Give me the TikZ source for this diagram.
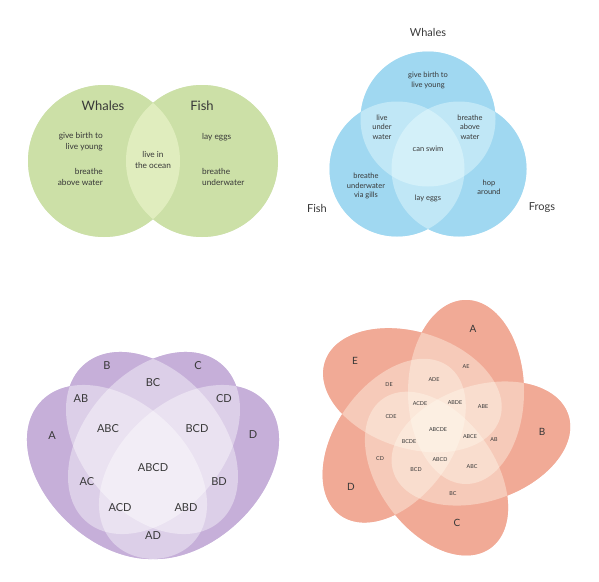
\documentclass[tikz,border=0pt]{standalone}
\usepackage{fontspec}
\setmainfont{Lato}
\definecolor{txt}{HTML}{383838}
\definecolor{gbase}{RGB}{168,199,125}
\definecolor{glight}{RGB}{250,255,220}
\definecolor{bbase}{RGB}{108,192,232}
\definecolor{blight}{RGB}{240,254,255}
\definecolor{pbase}{RGB}{160,123,192}
\definecolor{sbase}{RGB}{233,117,92}
\definecolor{cream}{RGB}{255,250,238}
\begin{document}
\begin{tikzpicture}[x=1pt,y=-1pt,
  lbl/.style={text=txt, align=center, inner sep=0pt},
  tlbig/.style={lbl, font=\fontsize{13}{16}\selectfont},
  tlsmall/.style={lbl, font=\fontsize{8.3}{11}\selectfont},
  trbig/.style={lbl, font=\fontsize{11}{13}\selectfont},
  trsmall/.style={lbl, font=\fontsize{7.5}{9.4}\selectfont},
  fourlbl/.style={lbl, font=\fontsize{11}{13}\selectfont},
  fivebig/.style={lbl, font=\fontsize{10}{12}\selectfont},
  fivesmall/.style={lbl, font=\fontsize{5.4}{6}\selectfont}
]
\useasboundingbox (0,0) rectangle (599,581);

% ---------- two circles ----------
\foreach \c in {(104,161),(202,161)} \fill[gbase] \c circle [radius=76];
\foreach \c in {(104,161),(202,161)} \fill[glight, fill opacity=0.45] \c circle [radius=76];
\node[tlbig] (tlW) at (103,106) {Whales};
\node[tlbig] (tlF) at (202,106) {Fish};
\node[tlsmall, align=right, anchor=east] (tl1) at (103,142) {give birth to\\live young};
\node[tlsmall, align=right, anchor=east] (tl2) at (103,177) {breathe\\above water};
\node[tlsmall] (tl3) at (153,160) {live in\\the ocean};
\node[tlsmall, anchor=west] (tl4) at (202,137) {lay eggs};
\node[tlsmall, align=left, anchor=west] (tl5) at (202,177) {breathe\\underwater};

% ---------- three circles ----------
\foreach \c in {(428,119),(397,169),(459,169)} \fill[bbase] \c circle [radius=67.5];
\foreach \c in {(428,119),(397,169),(459,169)} \fill[blight, fill opacity=0.4] \c circle [radius=67.5];
\node[trbig] (trW) at (428,32) {Whales};
\node[trbig] (trF) at (317,208) {Fish};
\node[trbig] (trG) at (542,208) {Frogs};
\node[trsmall] (tr1) at (428,80.5) {give birth to\\live young};
\node[trsmall] (tr2) at (382,127) {live\\under\\water};
\node[trsmall] (tr3) at (470,127) {breathe\\above\\water};
\node[trsmall] (tr4) at (428,149) {can swim};
\node[trsmall] (tr5) at (366,186) {breathe\\underwater\\via gills};
\node[trsmall] (tr6) at (428,198) {lay eggs};
\node[trsmall] (tr7) at (489,187) {hop\\around};

% ---------- four ellipses ----------
\def\fourell{%
  \fill[shift={(117,472)},rotate=-42.4] (0,0) ellipse [x radius=103.7, y radius=70.2];
  \fill[shift={(189,472)},rotate=42.4] (0,0) ellipse [x radius=103.7, y radius=70.2];
  \fill[shift={(152,443)},rotate=-49.4] (0,0) ellipse [x radius=103.7, y radius=70.2];
  \fill[shift={(154,443)},rotate=49.4] (0,0) ellipse [x radius=103.7, y radius=70.2];}
\begin{scope}[pbase]\fourell\end{scope}
\begin{scope}[white, fill opacity=0.4]\fourell\end{scope}
\node[fourlbl] (fA) at (52,436) {A};
\node[fourlbl] (fB) at (107,366) {B};
\node[fourlbl] (fC) at (198,366) {C};
\node[fourlbl] (fD) at (253,435) {D};
\node[fourlbl] (fBC) at (153,383) {BC};
\node[fourlbl] (fAB) at (81,399) {AB};
\node[fourlbl] (fCD) at (224,399) {CD};
\node[fourlbl] (fABC) at (108,429) {ABC};
\node[fourlbl] (fBCD) at (197,429) {BCD};
\node[fourlbl] (fABCD) at (153,468) {ABCD};
\node[fourlbl] (fAC) at (87,482) {AC};
\node[fourlbl] (fBD) at (219,482) {BD};
\node[fourlbl] (fACD) at (120,508) {ACD};
\node[fourlbl] (fABD) at (186,508) {ABD};
\node[fourlbl] (fAD) at (153,536) {AD};

% ---------- five ellipses ----------
\begin{scope}[shift={(438,428)}]
  \foreach \k in {0,...,4} \fill[sbase, rotate=72*\k] (28,-36) ellipse [x radius=58, y radius=92];
  \foreach \k in {0,...,4} \fill[cream, fill opacity=0.4, rotate=72*\k] (28,-36) ellipse [x radius=58, y radius=92];
\end{scope}
\node[fivebig] (vA) at (473,329) {A};
\node[fivebig] (vB) at (542,432) {B};
\node[fivebig] (vC) at (457,523) {C};
\node[fivebig] (vD) at (351,487) {D};
\node[fivebig] (vE) at (355,361) {E};
\node[fivesmall] (vAE) at (466,367) {AE};
\node[fivesmall] (vADE) at (434,380) {ADE};
\node[fivesmall] (vDE) at (389,385) {DE};
\node[fivesmall] (vACDE) at (420,404) {ACDE};
\node[fivesmall] (vABDE) at (455,403) {ABDE};
\node[fivesmall] (vABE) at (483,407) {ABE};
\node[fivesmall] (vCDE) at (391,417) {CDE};
\node[fivesmall] (vABCDE) at (438,430) {ABCDE};
\node[fivesmall] (vABCE) at (470,437) {ABCE};
\node[fivesmall] (vAB) at (494,440) {AB};
\node[fivesmall] (vBCDE) at (409,442) {BCDE};
\node[fivesmall] (vCD) at (380,459) {CD};
\node[fivesmall] (vABCD) at (440,460) {ABCD};
\node[fivesmall] (vABC) at (472,467) {ABC};
\node[fivesmall] (vBCD) at (416,470) {BCD};
\node[fivesmall] (vBC) at (453,494) {BC};
\end{tikzpicture}
\end{document}
